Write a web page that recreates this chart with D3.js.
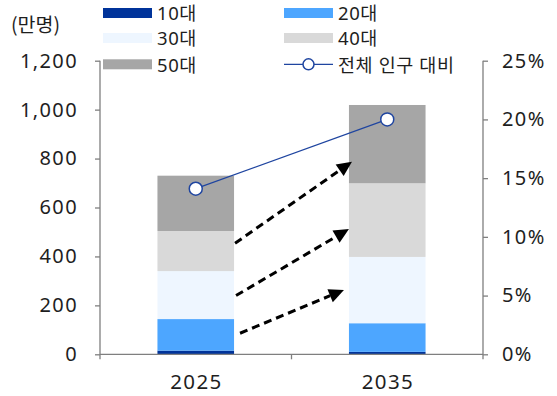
<!DOCTYPE html>
<html><head><meta charset="utf-8">
<script src="https://cdn.jsdelivr.net/npm/d3@7"></script>
<style>
body{margin:0;background:#fff}
text{font-family:"Noto Sans","Noto Sans CJK KR",sans-serif;fill:#1e1e1e}
text.kr{font-family:"Noto Sans CJK KR","Noto Sans",sans-serif}
</style></head>
<body><svg id="c" width="557" height="396"></svg>
<script>
const categories = ["2025", "2035"];
const seriesNames = ["10대", "20대", "30대", "40대", "50대"];
const v10 = [15, 10];
const v20 = [129, 117];
const v30 = [196, 271];
const v40 = [164, 301];
const v50 = [226, 320];
const ratioName = "전체 인구 대비";
const ratio = [14.1, 20.0];
const leftTicks = [0, 200, 400, 600, 800, 1000, 1200];
const rightTicks = [0, 5, 10, 15, 20, 25];
const unitLabel = "(만명)";
const arrowFrom = [454, 240, 86];
const arrowTo = [787, 512, 263];

const colors = ["#00339a", "#4da6ff", "#eef6ff", "#d9d9d9", "#a6a6a6"];
const lineColor = "#1f45a0";

const svg = d3.select("#c");
const X0 = 100, X1 = 483, YT = 60.7, YB = 354.3;

const x = d3.scaleBand().domain(categories).range([X0, X1]).padding(0);
const barW = x.bandwidth() * 0.4;
const y = d3.scaleLinear().domain([0, 1200]).range([YB, YT]);
const y2 = d3.scaleLinear().domain([0, 25]).range([YB, YT]);

const rows = categories.map((c, i) => ({cat: c, "10대": v10[i], "20대": v20[i], "30대": v30[i], "40대": v40[i], "50대": v50[i]}));
const stacked = d3.stack().keys(seriesNames)(rows);

// bars
stacked.forEach((s, si) => {
  svg.append("g").selectAll("rect").data(s).join("rect")
    .attr("x", d => x(d.data.cat) + (x.bandwidth() - barW) / 2)
    .attr("width", barW)
    .attr("y", d => y(d[1]))
    .attr("height", d => y(d[0]) - y(d[1]))
    .attr("fill", colors[si]);
});

// axes
const axL = svg.append("g").attr("transform", `translate(${X0},0)`)
  .call(d3.axisLeft(y).tickValues(leftTicks).tickFormat(d3.format(",")).tickSize(5).tickPadding(17));
const axR = svg.append("g").attr("transform", `translate(${X1},0)`)
  .call(d3.axisRight(y2).tickValues(rightTicks).tickFormat(d => d + "%").tickSize(5).tickPadding(14));
[axL, axR].forEach(a => {
  a.select(".domain").attr("stroke", "#7f7f7f").attr("stroke-width", 1.3);
  a.selectAll(".tick line").attr("stroke", "#7f7f7f").attr("stroke-width", 1.3);
  a.selectAll(".tick text").attr("font-size", 20).attr("letter-spacing", 1.4)
    .attr("font-family", null).style("fill", "#1e1e1e");
});
axL.select(".domain").attr("d", `M0,${YT}V${YB}`);
axR.select(".domain").attr("d", `M0,${YT}V${YB}`);

// x axis
const gx = svg.append("g");
gx.append("line").attr("x1", X0).attr("x2", X1).attr("y1", YB).attr("y2", YB)
  .attr("stroke", "#7f7f7f").attr("stroke-width", 1.3);
const bounds = [X0, x(categories[1]), X1];
gx.selectAll("line.t").data(bounds).join("line").attr("class", "t")
  .attr("x1", d => d).attr("x2", d => d).attr("y1", YB).attr("y2", YB + 5)
  .attr("stroke", "#7f7f7f").attr("stroke-width", 1.3);
gx.selectAll("text").data(categories).join("text")
  .attr("x", d => x(d) + x.bandwidth() / 2 + 0.7).attr("y", 389)
  .attr("text-anchor", "middle").attr("font-size", 20.5).attr("letter-spacing", 1.4).text(d => d);

// arrows
const bx1 = x(categories[0]) + (x.bandwidth() + barW) / 2;
const bx2 = x(categories[1]) + (x.bandwidth() - barW) / 2;
const ag = svg.append("g");
const tipOff = [3, 0, -5];
const startOff = [1, 2, 6];
arrowFrom.forEach((f, i) => {
  const sx = bx1 + startOff[i], sy = y(f);
  const ex = bx2 + tipOff[i], ey = y(arrowTo[i]);
  const ang = Math.atan2(ey - sy, ex - sx);
  const L = 15, W = 7;
  const bxp = ex - L * Math.cos(ang), byp = ey - L * Math.sin(ang);
  ag.append("line").attr("x1", sx).attr("y1", sy).attr("x2", bxp).attr("y2", byp)
    .attr("stroke", "#000").attr("stroke-width", 3).attr("stroke-dasharray", "8,5");
  const px = -Math.sin(ang), py = Math.cos(ang);
  ag.append("polygon")
    .attr("points", [[ex, ey], [bxp + px * W, byp + py * W], [bxp - px * W, byp - py * W]].map(p => p.join(",")).join(" "))
    .attr("fill", "#000");
});

// ratio line
const lineData = categories.map((c, i) => [x(c) + x.bandwidth() / 2, y2(ratio[i])]);
svg.append("path").attr("d", d3.line()(lineData)).attr("fill", "none")
  .attr("stroke", lineColor).attr("stroke-width", 1.3);
svg.selectAll("circle.pt").data(lineData).join("circle").attr("class", "pt")
  .attr("cx", d => d[0]).attr("cy", d => d[1]).attr("r", 6.5)
  .attr("fill", "#fff").attr("stroke", lineColor).attr("stroke-width", 1.5);

// unit label
svg.append("text").attr("class", "kr").attr("x", 11).attr("y", 32).attr("font-size", 19.5).text(unitLabel);

// legend
const legItems = seriesNames.map((n, i) => ({name: n, color: colors[i], type: "rect"}))
  .concat([{name: ratioName, color: lineColor, type: "line"}]);
const legPos = [[103, 13], [284, 13], [103, 38], [284, 38], [103, 64.3], [284, 64.3]];
const lg = svg.append("g");
legItems.forEach((it, i) => {
  const [lx, ly] = legPos[i];
  if (it.type === "rect") {
    lg.append("rect").attr("x", lx).attr("y", ly - 5).attr("width", 49).attr("height", 10).attr("fill", it.color);
  } else {
    lg.append("line").attr("x1", lx).attr("x2", lx + 49).attr("y1", ly).attr("y2", ly)
      .attr("stroke", it.color).attr("stroke-width", 1.3);
    lg.append("circle").attr("cx", lx + 24.5).attr("cy", ly).attr("r", 5.5)
      .attr("fill", "#fff").attr("stroke", it.color).attr("stroke-width", 1.5);
  }
  lg.append("text").attr("x", lx + 54).attr("y", ly).attr("dy", "0.4em")
    .attr("font-size", 18.5).attr("letter-spacing", 0.6).text(it.name);
});
</script></body></html>
